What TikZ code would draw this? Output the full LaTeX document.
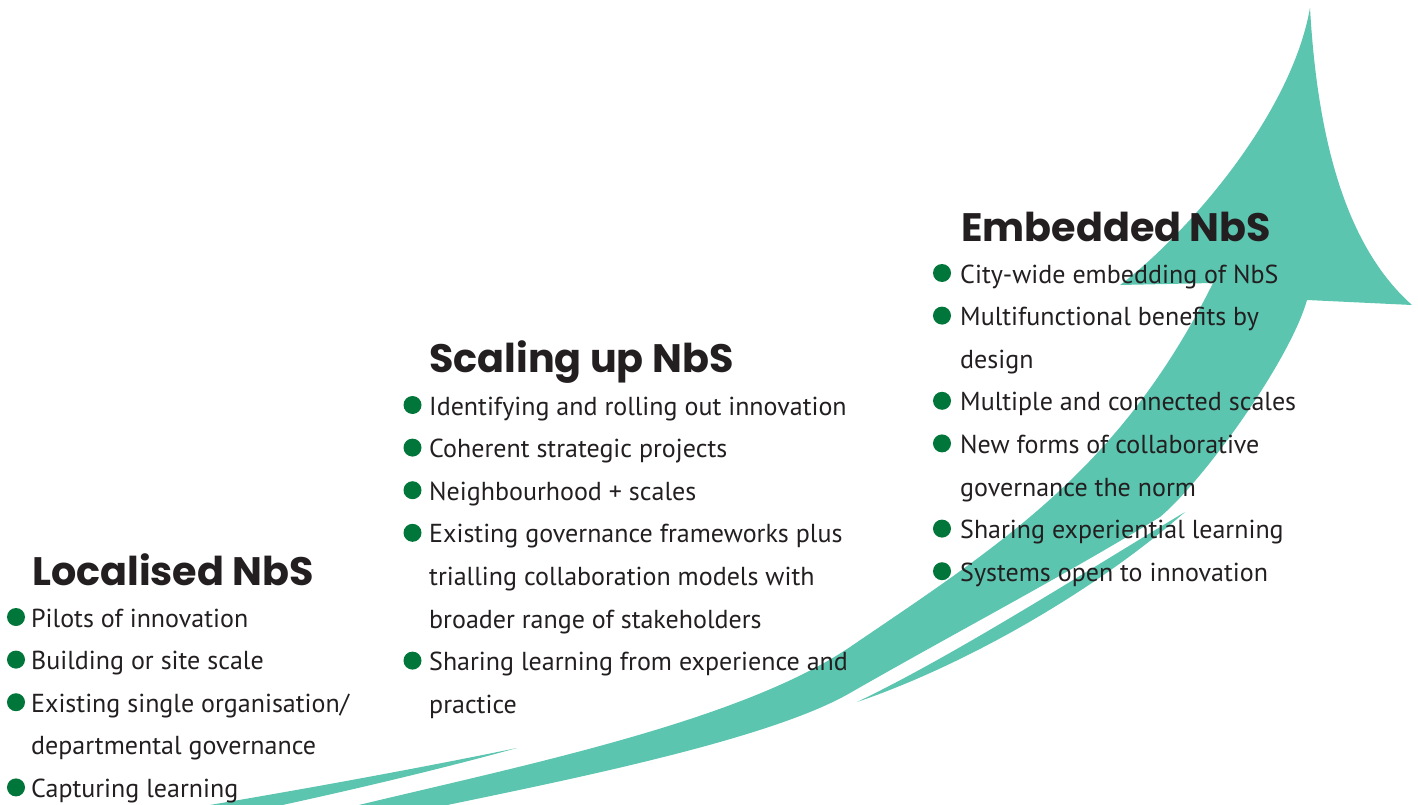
\documentclass[tikz,border=0pt]{standalone}
\usepackage{fontspec}
\setmainfont{PT Sans}
\newfontfamily\headfont{Poppins}
\usepackage{tikz}

\definecolor{arrowteal}{HTML}{5BC5AF}
\definecolor{dotgreen}{HTML}{00763A}
\definecolor{ink}{HTML}{231F20}

\begin{document}
\begin{tikzpicture}[x=1pt,y=-1pt,
	title/.style={anchor=base west, inner sep=0, text=ink, font=\headfont\bfseries\fontsize{39.7}{40}\selectfont},
	item/.style={anchor=base west, inner sep=0, text=ink, font=\fontsize{26}{26}\selectfont},
	dot/.style={circle, fill=dotgreen, inner sep=0, minimum size=18pt}]

	\useasboundingbox (0,0) rectangle (1418,805);

	% the arrow
	\begin{scope}
	\clip (0,0) rectangle (1418,805);
	\fill[arrowteal] (330,812) .. controls (500,770) and (735,725) .. (850,647)
		.. controls (1000,545) and (1120,470) .. (1213,283)
		-- (1120,285) .. controls (1180,240) and (1290,120) .. (1310,8)
		.. controls (1318,150) and (1350,250) .. (1412,305)
		-- (1307,300) .. controls (1290,360) and (1205,479) .. (1160,517)
		.. controls (1060,578) and (960,630) .. (850,693)
		.. controls (760,745) and (520,789) .. (400,815) -- cycle;
	\fill[arrowteal] (180,810) .. controls (300,790) and (420,768) .. (517,748)
		.. controls (430,772) and (330,795) .. (250,812) -- cycle;
	\fill[arrowteal] (857,702) .. controls (955,655) and (1080,575) .. (1185,512)
		.. controls (1090,595) and (960,667) .. (857,702) -- cycle;
	\end{scope}

	% Localised NbS
	\node[title] (loc) at (32,585) {Localised NbS};
	\node[dot] (locd1) at (16,617) {};
	\node[item] (loc1) at (31,627) {Pilots of innovation};
	\node[dot] (locd2) at (16,659.6) {};
	\node[item] (loc2) at (31,669.6) {Building or site scale};
	\node[dot] (locd3) at (16,702.2) {};
	\node[item] (loc3) at (31,712.2) {Existing single organisation/};
	\node[item] (loc3b) at (31,754.8) {departmental governance};
	\node[dot] (locd4) at (16,787.4) {};
	\node[item] (loc4) at (31,797.4) {Capturing learning};

	% Scaling up NbS
	\node[title] (scl) at (429,372) {Scaling up NbS};
	\node[dot] (scld1) at (412.5,405) {};
	\node[item] (scl1) at (429,415) {Identifying and rolling out innovation};
	\node[dot] (scld2) at (412.5,447.6) {};
	\node[item] (scl2) at (429,457.6) {Coherent strategic projects};
	\node[dot] (scld3) at (412.5,490.2) {};
	\node[item] (scl3) at (429,500.2) {Neighbourhood + scales};
	\node[dot] (scld4) at (412.5,532.8) {};
	\node[item] (scl4) at (429,542.8) {Existing governance frameworks plus};
	\node[item] (scl4b) at (429,585.4) {trialling collaboration models with};
	\node[item] (scl4c) at (429,628) {broader range of stakeholders};
	\node[dot] (scld5) at (412.5,660.6) {};
	\node[item] (scl5) at (429,670.6) {Sharing learning from experience and};
	\node[item] (scl5b) at (429,713.2) {practice};

	% Embedded NbS
	\node[title] (emb) at (961,241) {Embedded NbS};
	\node[dot] (embd1) at (942,273) {};
	\node[item] (emb1) at (960,283) {City-wide embedding of NbS};
	\node[dot] (embd2) at (942,315.6) {};
	\node[item] (emb2) at (960,325.6) {Multifunctional benefits by};
	\node[item] (emb2b) at (960,368.2) {design};
	\node[dot] (embd3) at (942,400.8) {};
	\node[item] (emb3) at (960,410.8) {Multiple and connected scales};
	\node[dot] (embd4) at (942,443.4) {};
	\node[item] (emb4) at (960,453.4) {New forms of collaborative};
	\node[item] (emb4b) at (960,496) {governance the norm};
	\node[dot] (embd5) at (942,528.6) {};
	\node[item] (emb5) at (960,538.6) {Sharing experiential learning};
	\node[dot] (embd6) at (942,571.2) {};
	\node[item] (emb6) at (960,581.2) {Systems open to innovation};

\end{tikzpicture}
\end{document}
